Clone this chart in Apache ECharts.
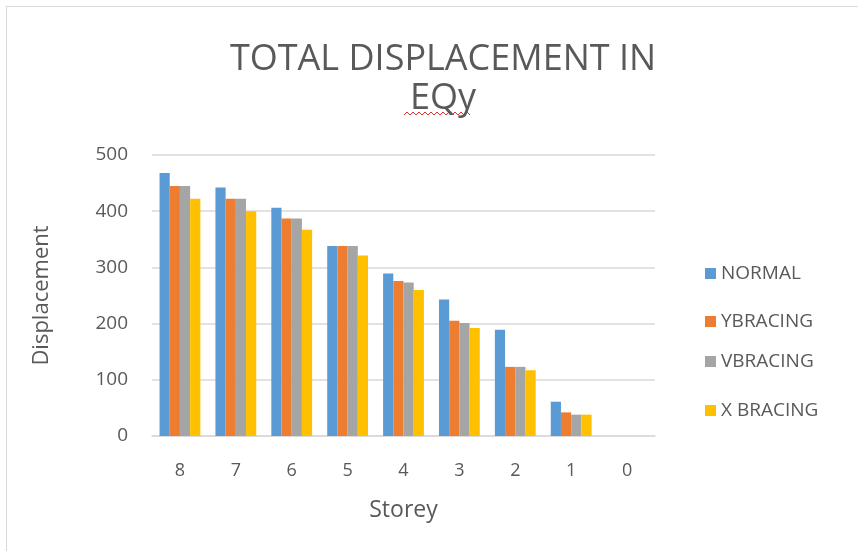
<!DOCTYPE html>
<html>
<head>
<meta charset="utf-8">
<script src="https://cdn.jsdelivr.net/npm/echarts@6/dist/echarts.min.js"></script>
<style>
  html, body { margin: 0; padding: 0; background: #fff; }
  #frame {
    position: absolute; left: 6px; top: 6px; right: 0; bottom: 0;
    border-left: 1px solid #d9d9d9; border-top: 1px solid #d9d9d9;
  }
  #chart { position: absolute; left: 0; top: 0; width: 858px; height: 551px; }
</style>
</head>
<body>
<div id="frame"></div>
<div id="chart"></div>
<script>
  const storeys = ['8', '7', '6', '5', '4', '3', '2', '1', '0'];
  const normal = [468, 442, 406, 338, 289, 243, 189, 61, 0];
  const yBracing = [445, 422, 387, 338, 276, 205, 123, 42, 0];
  const vBracing = [445, 422, 387, 338, 273, 201, 123, 38, 0];
  const xBracing = [422, 400, 367, 321, 260, 192, 117, 38, 0];

  const seriesNames = ['NORMAL', 'YBRACING', 'VBRACING', 'X BRACING'];
  const colors = ['#5B9BD5', '#ED7D31', '#A5A5A5', '#FFC000'];
  const legendTops = [259, 307, 347, 396];

  const txt = '#595959';
  const font = 'Open Sans';

  let chart = echarts.init(document.getElementById('chart'));

  let bar = (i, data) => ({
    name: seriesNames[i],
    type: 'bar',
    data: data,
    barGap: '0%',
    barCategoryGap: '27%',
    itemStyle: { color: colors[i] }
  });

  // spell-check squiggle under "EQy"
  let squiggle = [];
  for (let x = 404; x <= 470; x += 3) {
    squiggle.push([x, (x - 404) % 6 === 0 ? 115 : 112]);
  }

  let option = {
    animation: false,
    textStyle: { fontFamily: font },
    title: {
      text: 'TOTAL DISPLACEMENT IN\nEQy',
      left: 438,
      textAlign: 'center',
      top: 35,
      textStyle: {
        color: txt,
        fontSize: 36,
        fontWeight: 'normal',
        fontFamily: font,
        lineHeight: 39
      }
    },
    grid: {
      left: 152,
      right: 203,
      top: 155,
      bottom: 115
    },
    legend: seriesNames.map((n, i) => ({
      data: [n],
      orient: 'vertical',
      left: 700,
      top: legendTops[i],
      itemWidth: 11,
      itemHeight: 11,
      itemGap: 6,
      icon: 'rect',
      selectedMode: false,
      textStyle: { color: txt, fontSize: 19, fontFamily: font }
    })),
    xAxis: {
      type: 'category',
      data: storeys,
      name: 'Storey',
      nameLocation: 'middle',
      nameGap: 63,
      nameTextStyle: { color: txt, fontSize: 23 },
      axisTick: { show: false },
      axisLine: { lineStyle: { color: '#d9d9d9', width: 1.5 } },
      axisLabel: { color: txt, fontSize: 18, margin: 26 }
    },
    yAxis: {
      type: 'value',
      min: 0,
      max: 500,
      interval: 100,
      name: 'Displacement',
      nameLocation: 'middle',
      nameGap: 99,
      nameTextStyle: { color: txt, fontSize: 22 },
      axisLine: { show: false },
      axisTick: { show: false },
      axisLabel: { color: txt, fontSize: 19, margin: 24 },
      splitLine: { lineStyle: { color: '#d9d9d9', width: 1.5 } }
    },
    graphic: [{
      type: 'polyline',
      silent: true,
      shape: { points: squiggle },
      style: { stroke: '#e03030', lineWidth: 1, fill: null }
    }],
    series: [
      bar(0, normal),
      bar(1, yBracing),
      bar(2, vBracing),
      bar(3, xBracing)
    ]
  };
  chart.setOption(option);
</script>
</body>
</html>
